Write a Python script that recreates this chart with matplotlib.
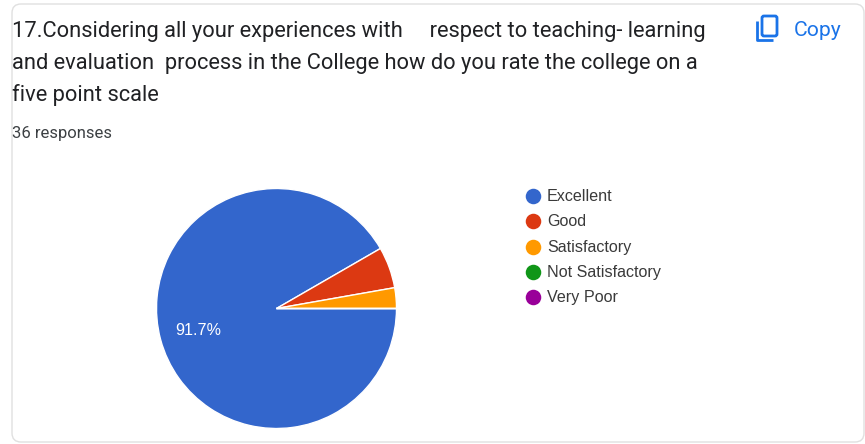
import matplotlib

matplotlib.use("Agg")
import matplotlib.pyplot as plt
from matplotlib.patches import FancyBboxPatch

W, H = 865, 444

labels = ["Excellent", "Good", "Satisfactory", "Not Satisfactory", "Very Poor"]
counts = [33, 2, 1, 0, 0]
colors = ["#3366cc", "#dc3912", "#ff9900", "#109618", "#990099"]
title_lines = [
    "17.Considering all your experiences with     respect to teaching- learning",
    "and evaluation  process in the College how do you rate the college on a",
    "five point scale",
]
responses = "36 responses"

fig = plt.figure(figsize=(W / 100, H / 100), dpi=100)

# overlay in pixel coords for the card, text and legend
bg = fig.add_axes([0, 0, 1, 1])
bg.set_xlim(0, W)
bg.set_ylim(H, 0)
bg.axis("off")

card = FancyBboxPatch(
    (12, 4), 852, 438, boxstyle="round,pad=0,rounding_size=9",
    fc="white", ec="#e0e0e0", lw=1, clip_on=False,
)
bg.add_patch(card)

for y, line in zip([31, 63.5, 95.5], title_lines):
    bg.text(12, y, line, family="Roboto", fontsize=15.72, color="#202124", va="center", ha="left")
bg.text(12, 133, responses, family="Roboto", fontsize=12, color="#3c4043", va="center", ha="left")

# copy icon
icon = FancyBboxPatch(
    (762, 16), 15, 20, boxstyle="round,pad=0,rounding_size=2",
    fc="none", ec="#1a73e8", lw=2,
)
bg.add_patch(icon)
bg.plot([756.5, 756.5, 773], [21, 40.5, 40.5], color="#1a73e8", lw=2, solid_capstyle="butt")
bg.text(794, 30, "Copy", family="Roboto", fontsize=15.2, color="#1a73e8", va="center", ha="left")

# legend
for y, lab, col in zip([196, 221, 247, 272, 297], labels, colors):
    bg.scatter([532.5], [y], s=125, color=col, linewidths=0)
    bg.text(547, y + 0.8, lab, family="Liberation Sans", fontsize=11.6, color="#3a3a3a", va="center", ha="left")

# pie, radius 120px around (276.5, 308.5)
ax = fig.add_axes([156.5 / W, (H - 428.5) / H, 240 / W, 240 / H])
wedges, _ = ax.pie(
    counts,
    colors=colors,
    startangle=0,
    counterclock=False,
    radius=1,
    wedgeprops={"edgecolor": "white", "linewidth": 1},
)
ax.set_xlim(-1, 1)
ax.set_ylim(-1, 1)
ax.set_aspect("equal")
for w in wedges:
    w.set_clip_on(False)

pct = counts[0] / sum(counts) * 100
bg.set_zorder(0)
ax.set_zorder(1)
ax.patch.set_alpha(0)
ax.text(
    (198.5 - 276.5) / 120, (308.5 - 330.5) / 120, f"{pct:.1f}%",
    family="Liberation Sans", fontsize=11.6, color="white", va="center", ha="center",
)

fig.savefig("out.png", dpi=100)
